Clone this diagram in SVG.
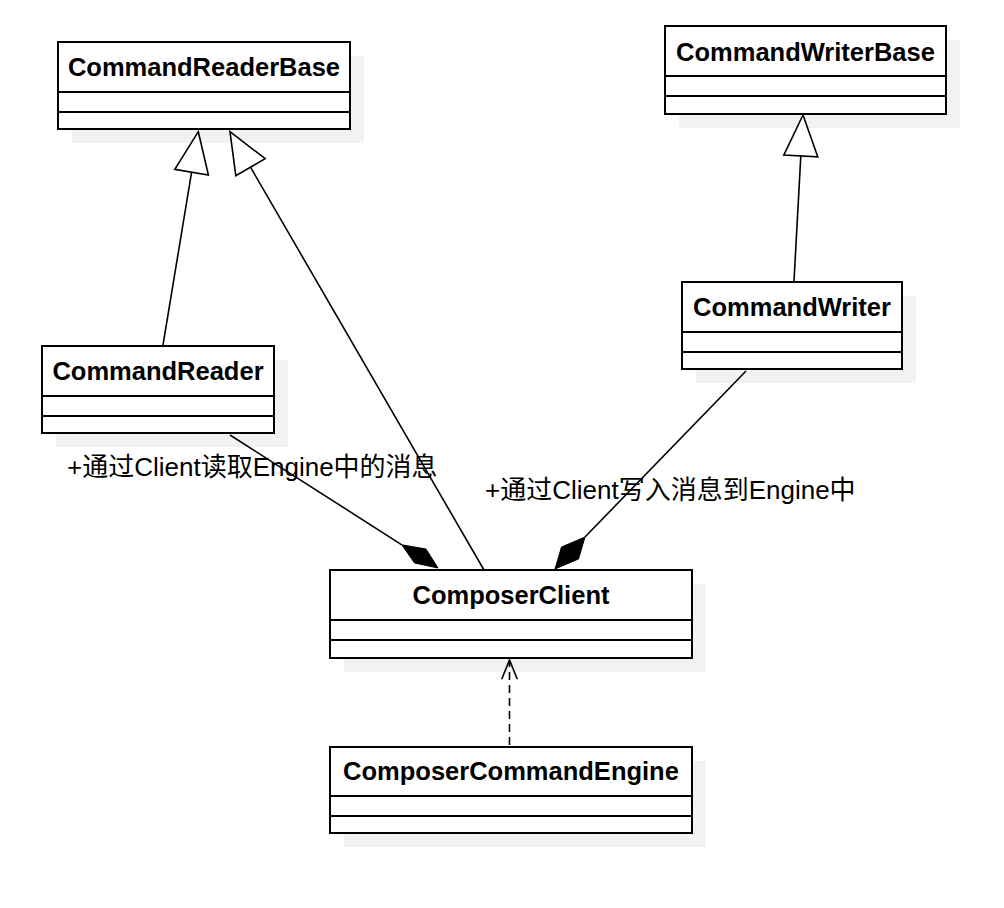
<svg xmlns="http://www.w3.org/2000/svg" width="1004" height="908" viewBox="0 0 1004 908">
<style>
.shadow{fill:#f2f2f2;stroke:none}
.box{fill:#ffffff;stroke:#000;stroke-width:2}
.div{stroke:#000;stroke-width:2}
.name{font-family:"Liberation Sans",Arial,sans-serif;font-weight:bold;font-size:25.5px;text-anchor:middle;fill:#000}
.lbl{font-family:"Liberation Sans","Noto Sans CJK SC",sans-serif;font-size:26px;fill:#000}
.edge{stroke:#000;stroke-width:1.6;fill:none}
.tri{fill:#fff;stroke:#000;stroke-width:1.6}
.dia{fill:#000;stroke:#000;stroke-width:1}
</style>
<rect width="1004" height="908" fill="#fff"/>
<g id="CommandReaderBase">
<rect class="shadow" x="72" y="56" width="292" height="87"/>
<rect class="box" x="58" y="42" width="292" height="87"/>
<line class="div" x1="58" y1="92" x2="350" y2="92"/>
<line class="div" x1="58" y1="112" x2="350" y2="112"/>
<text class="name" x="204" y="76">CommandReaderBase</text>
</g>
<g id="CommandWriterBase">
<rect class="shadow" x="679" y="40" width="281" height="88"/>
<rect class="box" x="665" y="26" width="281" height="88"/>
<line class="div" x1="665" y1="76" x2="946" y2="76"/>
<line class="div" x1="665" y1="96" x2="946" y2="96"/>
<text class="name" x="805.5" y="61">CommandWriterBase</text>
</g>
<g id="CommandReader">
<rect class="shadow" x="56" y="360" width="232" height="87"/>
<rect class="box" x="42" y="346" width="232" height="87"/>
<line class="div" x1="42" y1="396" x2="274" y2="396"/>
<line class="div" x1="42" y1="416" x2="274" y2="416"/>
<text class="name" x="158" y="380">CommandReader</text>
</g>
<g id="CommandWriter">
<rect class="shadow" x="696" y="296" width="220" height="87"/>
<rect class="box" x="682" y="282" width="220" height="87"/>
<line class="div" x1="682" y1="332" x2="902" y2="332"/>
<line class="div" x1="682" y1="352" x2="902" y2="352"/>
<text class="name" x="792" y="316">CommandWriter</text>
</g>
<g id="ComposerClient">
<rect class="shadow" x="344" y="584" width="362" height="88"/>
<rect class="box" x="330" y="570" width="362" height="88"/>
<line class="div" x1="330" y1="620" x2="692" y2="620"/>
<line class="div" x1="330" y1="640" x2="692" y2="640"/>
<text class="name" x="511" y="604">ComposerClient</text>
</g>
<g id="ComposerCommandEngine">
<rect class="shadow" x="344" y="761" width="362" height="86"/>
<rect class="box" x="330" y="747" width="362" height="86"/>
<line class="div" x1="330" y1="796" x2="692" y2="796"/>
<line class="div" x1="330" y1="816" x2="692" y2="816"/>
<text class="name" x="511" y="780">ComposerCommandEngine</text>
</g>
<g id="connectors">
<line class="edge" x1="163" y1="345" x2="191.6" y2="172.2"/>
<polygon class="tri" points="198.3,131.7 208.4,175 174.8,169.4"/>
<line class="edge" x1="484" y1="570" x2="250.5" y2="167.2"/>
<polygon class="tri" points="230,131.7 265.2,158.7 235.8,175.7"/>
<line class="edge" x1="794" y1="281" x2="800.8" y2="156"/>
<polygon class="tri" points="803,115 817.8,156.9 783.8,155.1"/>
<line class="edge" x1="230" y1="435" x2="401.8" y2="544.8"/>
<polygon class="dia" points="438,568 426,549 401.8,544.8 414.5,563"/>
<line class="edge" x1="746" y1="371" x2="585" y2="537"/>
<polygon class="dia" points="555,569 561.5,547 585,537 578.5,559"/>
<line class="edge" x1="509.5" y1="745" x2="509.5" y2="661" stroke-dasharray="8,5"/>
<polyline class="edge" points="501.7,679.3 509.5,660 517.3,679.3"/>
<text class="lbl" x="67" y="476">+通过Client读取Engine中的消息</text>
<text class="lbl" x="485" y="499">+通过Client写入消息到Engine中</text>
</g>
</svg>
